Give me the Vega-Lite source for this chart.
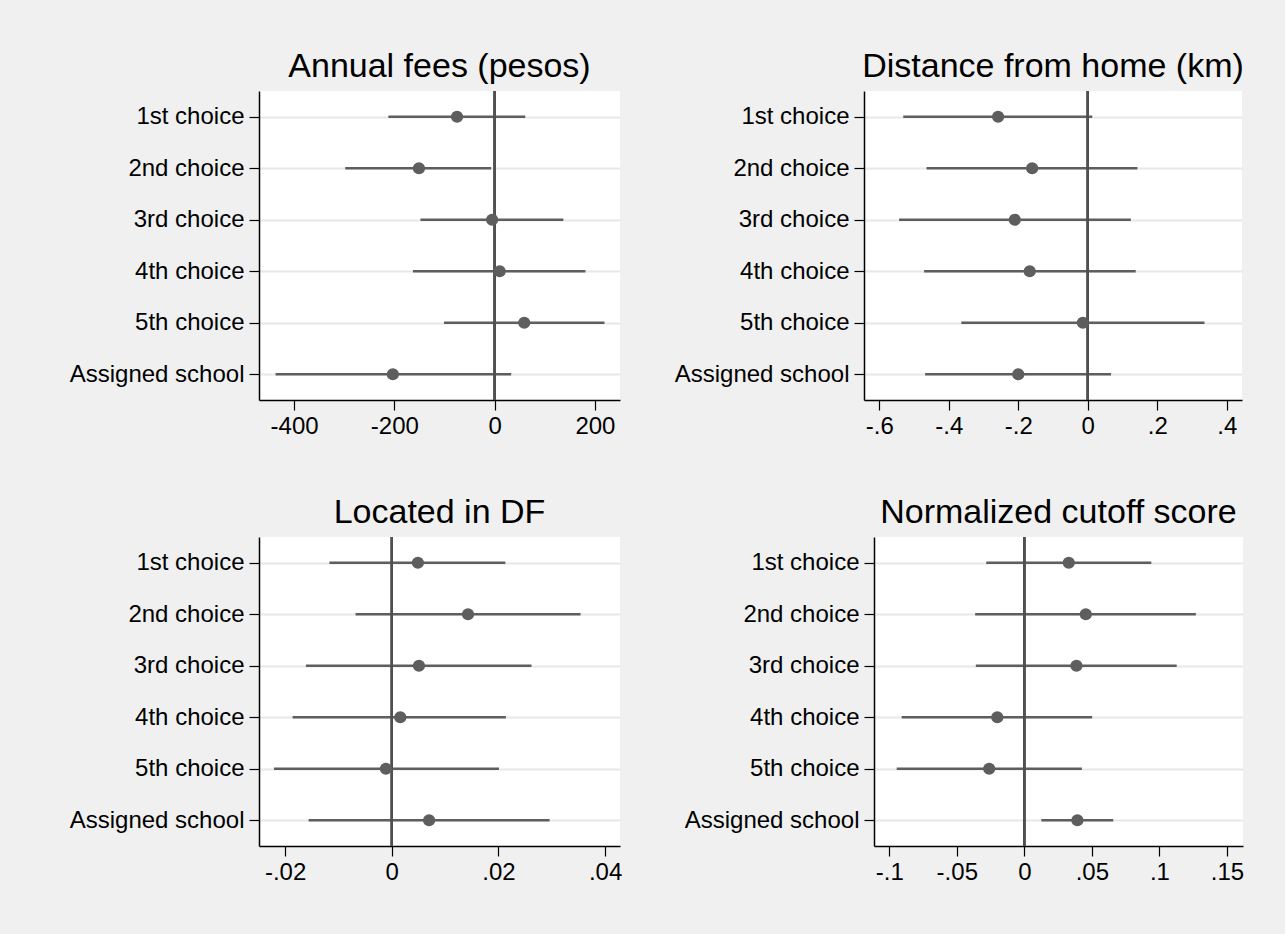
{
  "$schema": "https://vega.github.io/schema/vega-lite/v6.json",
  "background": "#f0f0f0",
  "padding": {"left": 69, "top": 50, "right": 41, "bottom": 50},
  "data": {"values": [
    {"panel": "fees", "label": "1st choice", "est": -75, "lo": -212, "hi": 61},
    {"panel": "fees", "label": "2nd choice", "est": -151, "lo": -298, "hi": -7},
    {"panel": "fees", "label": "3rd choice", "est": -5, "lo": -148, "hi": 137},
    {"panel": "fees", "label": "4th choice", "est": 10, "lo": -163, "hi": 181},
    {"panel": "fees", "label": "5th choice", "est": 59, "lo": -101, "hi": 219},
    {"panel": "fees", "label": "Assigned school", "est": -203, "lo": -437, "hi": 33},
    {"panel": "dist", "label": "1st choice", "est": -0.258, "lo": -0.531, "hi": 0.013},
    {"panel": "dist", "label": "2nd choice", "est": -0.160, "lo": -0.464, "hi": 0.143},
    {"panel": "dist", "label": "3rd choice", "est": -0.210, "lo": -0.543, "hi": 0.124},
    {"panel": "dist", "label": "4th choice", "est": -0.167, "lo": -0.471, "hi": 0.138},
    {"panel": "dist", "label": "5th choice", "est": -0.014, "lo": -0.364, "hi": 0.336},
    {"panel": "dist", "label": "Assigned school", "est": -0.200, "lo": -0.468, "hi": 0.067},
    {"panel": "df", "label": "1st choice", "est": 0.0049, "lo": -0.0117, "hi": 0.0213},
    {"panel": "df", "label": "2nd choice", "est": 0.0143, "lo": -0.0068, "hi": 0.0354},
    {"panel": "df", "label": "3rd choice", "est": 0.0051, "lo": -0.0161, "hi": 0.0262},
    {"panel": "df", "label": "4th choice", "est": 0.0016, "lo": -0.0186, "hi": 0.0214},
    {"panel": "df", "label": "5th choice", "est": -0.0011, "lo": -0.0221, "hi": 0.0201},
    {"panel": "df", "label": "Assigned school", "est": 0.0070, "lo": -0.0156, "hi": 0.0296},
    {"panel": "cut", "label": "1st choice", "est": 0.0329, "lo": -0.0282, "hi": 0.0940},
    {"panel": "cut", "label": "2nd choice", "est": 0.0455, "lo": -0.0364, "hi": 0.1270},
    {"panel": "cut", "label": "3rd choice", "est": 0.0386, "lo": -0.0359, "hi": 0.1128},
    {"panel": "cut", "label": "4th choice", "est": -0.0200, "lo": -0.0908, "hi": 0.0502},
    {"panel": "cut", "label": "5th choice", "est": -0.0260, "lo": -0.0945, "hi": 0.0426},
    {"panel": "cut", "label": "Assigned school", "est": 0.0393, "lo": 0.0126, "hi": 0.0658}
  ]},
  "config": {
    "view": {"fill": "white", "stroke": null},
    "font": "Liberation Sans",
    "axis": {
      "labelFont": "Liberation Sans", "labelFontSize": 24, "labelColor": "black",
      "domainColor": "black", "domainWidth": 1.5, "tickColor": "black",
      "tickSize": 10, "tickWidth": 1.2, "title": null, "labelPadding": 4
    },
    "axisY": {"grid": true, "gridColor": "#e8e8e8", "gridWidth": 2, "labelPadding": 5},
    "axisX": {"grid": false, "labelPadding": 4},
    "title": {"font": "Liberation Sans", "fontSize": 34, "fontWeight": "normal", "color": "black", "baseline": "alphabetic", "offset": 6, "frame": "group", "anchor": "middle"}
  },
  "vconcat": [
    {
      "bounds": "flush",
      "spacing": 244,
      "hconcat": [
        {
          "title": {"text": "Annual fees (pesos)"},
          "width": 361, "height": 309,
          "transform": [{"filter": "datum.panel === 'fees'"}],
          "encoding": {
            "y": {"field": "label", "type": "nominal", "sort": null, "scale": {"type": "point", "padding": 0.5}, "axis": {"title": null}}
          },
          "layer": [
            {"mark": {"type": "rule", "color": "#5e5e5e", "strokeWidth": 2.5},
             "encoding": {"x": {"field": "lo", "type": "quantitative", "scale": {"domain": [-470, 250], "nice": false, "zero": false}, "axis": {"values": [-400, -200, 0, 200], "labelExpr": "replace(toString(datum.value), '0.', '.')"}}, "x2": {"field": "hi"}}},
            {"mark": {"type": "rule", "color": "#505050", "strokeWidth": 2},
             "encoding": {"x": {"datum": 0}, "y": null}},
            {"mark": {"type": "point", "filled": true, "color": "#5e5e5e", "size": 150, "opacity": 1},
             "encoding": {"x": {"field": "est", "type": "quantitative"}}}
          ]
        },
        {
          "title": {"text": "Distance from home (km)"},
          "width": 378, "height": 309,
          "transform": [{"filter": "datum.panel === 'dist'"}],
          "encoding": {
            "y": {"field": "label", "type": "nominal", "sort": null, "scale": {"type": "point", "padding": 0.5}, "axis": {"title": null}}
          },
          "layer": [
            {"mark": {"type": "rule", "color": "#5e5e5e", "strokeWidth": 2.5},
             "encoding": {"x": {"field": "lo", "type": "quantitative", "scale": {"domain": [-0.644, 0.444], "nice": false, "zero": false}, "axis": {"values": [-0.6, -0.4, -0.2, 0, 0.2, 0.4], "labelExpr": "replace(toString(datum.value), '0.', '.')"}}, "x2": {"field": "hi"}}},
            {"mark": {"type": "rule", "color": "#505050", "strokeWidth": 2},
             "encoding": {"x": {"datum": 0}, "y": null}},
            {"mark": {"type": "point", "filled": true, "color": "#5e5e5e", "size": 150, "opacity": 1},
             "encoding": {"x": {"field": "est", "type": "quantitative"}}}
          ]
        }
      ]
    },
    {
      "bounds": "flush",
      "spacing": 254,
      "hconcat": [
        {
          "title": {"text": "Located in DF"},
          "width": 361, "height": 309,
          "transform": [{"filter": "datum.panel === 'df'"}],
          "encoding": {
            "y": {"field": "label", "type": "nominal", "sort": null, "scale": {"type": "point", "padding": 0.5}, "axis": {"title": null}}
          },
          "layer": [
            {"mark": {"type": "rule", "color": "#5e5e5e", "strokeWidth": 2.5},
             "encoding": {"x": {"field": "lo", "type": "quantitative", "scale": {"domain": [-0.0249, 0.0428], "nice": false, "zero": false}, "axis": {"values": [-0.02, 0, 0.02, 0.04], "labelExpr": "replace(toString(datum.value), '0.', '.')"}}, "x2": {"field": "hi"}}},
            {"mark": {"type": "rule", "color": "#505050", "strokeWidth": 2},
             "encoding": {"x": {"datum": 0}, "y": null}},
            {"mark": {"type": "point", "filled": true, "color": "#5e5e5e", "size": 150, "opacity": 1},
             "encoding": {"x": {"field": "est", "type": "quantitative"}}}
          ]
        },
        {
          "title": {"text": "Normalized cutoff score"},
          "width": 369, "height": 309,
          "transform": [{"filter": "datum.panel === 'cut'"}],
          "encoding": {
            "y": {"field": "label", "type": "nominal", "sort": null, "scale": {"type": "point", "padding": 0.5}, "axis": {"title": null}}
          },
          "layer": [
            {"mark": {"type": "rule", "color": "#5e5e5e", "strokeWidth": 2.5},
             "encoding": {"x": {"field": "lo", "type": "quantitative", "scale": {"domain": [-0.1113, 0.1619], "nice": false, "zero": false}, "axis": {"values": [-0.1, -0.05, 0, 0.05, 0.1, 0.15], "labelExpr": "replace(toString(datum.value), '0.', '.')"}}, "x2": {"field": "hi"}}},
            {"mark": {"type": "rule", "color": "#505050", "strokeWidth": 2},
             "encoding": {"x": {"datum": 0}, "y": null}},
            {"mark": {"type": "point", "filled": true, "color": "#5e5e5e", "size": 150, "opacity": 1},
             "encoding": {"x": {"field": "est", "type": "quantitative"}}}
          ]
        }
      ]
    }
  ],
  "spacing": 58
}
